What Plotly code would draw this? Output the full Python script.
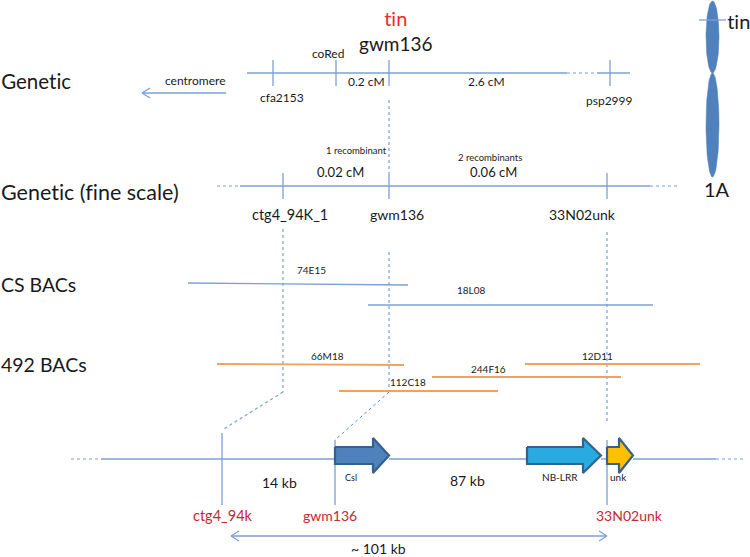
import numpy as np
import plotly.graph_objects as go

FONT = "Lato"
LINE = "#7ba0d4"
DARK = "#5f8cc6"
ORANGE = "#f6a15a"
BLACK = "#1a1a1a"
RED_T = "#ee2a2a"
RED_L = "#c5282f"

# x0, y0, x1, y1
solid_lines = [
    (247, 73, 567, 73), (597, 73, 630, 73),
    (273, 60, 273, 86), (336, 60, 336, 86), (389, 60, 389, 86), (610, 60, 610, 86),
    (240, 186, 650, 186),
    (283, 173, 283, 199), (389, 173, 389, 199), (607, 173, 607, 199),
    (188, 283, 408, 285), (368, 305, 653, 305),
    (101, 459, 335, 459), (389, 459, 527, 459), (601, 459, 607, 459), (633, 459, 716, 459),
    (222, 433, 222, 505), (335, 440, 335, 505), (607, 440, 607, 505),
    (699, 20, 726, 20),
    (142, 93, 226, 93), (231, 536, 607, 536),
]
dashed_lines = [
    (567, 73, 597, 73),
    (217, 186, 240, 186), (650, 186, 680, 186),
    (283, 229, 283, 392), (283, 392, 222, 430),
    (607, 232, 607, 423),
    (71, 459, 101, 459), (716, 459, 746, 459),
]
dark_dashed_lines = [
    (389, 100, 389, 173),
    (389, 252, 389, 392), (389, 392, 335, 440),
]
orange_lines = [
    (217, 364, 404, 365), (339, 391, 498, 391), (432, 377, 621, 377), (525, 364, 700, 364),
]
arrow_chevrons = [(142, 93, 1), (231, 536, 1), (607, 536, -1)]

# gene arrows: x start, head start, tip, fill, outline
gene_starts = [335, 527, 607]
gene_heads = [373, 583, 619]
gene_tips = [389, 601, 633]
gene_fills = ["#4f81bd", "#29abe2", "#ffc000"]
gene_y = (447, 464, 438, 473, 455.5)

# chromosome arms: center x, half width, top, bottom
chrom_arms = [(712.5, 6.5, 1, 73), (712.5, 6.5, 73, 177)]

# text, x, y, size, colour, anchor
labels = [
    ("Genetic", 2, 81, 20.5, BLACK, "left"),
    ("Genetic (fine scale)", 2, 192, 21.5, BLACK, "left"),
    ("CS BACs", 2, 284, 19.5, BLACK, "left"),
    ("492 BACs", 2, 364, 19.5, BLACK, "left"),
    ("tin", 395.5, 18, 20, RED_T, "center"),
    ("gwm136", 395.5, 43, 19, BLACK, "center"),
    ("tin", 738.5, 21, 20, BLACK, "center"),
    ("1A", 717, 189, 20, BLACK, "center"),
    ("coRed", 328, 53, 12, BLACK, "center"),
    ("centromere", 195, 80, 12, BLACK, "center"),
    ("cfa2153", 282, 97, 12, BLACK, "center"),
    ("0.2 cM", 366, 81, 12, BLACK, "center"),
    ("2.6 cM", 486, 81, 12, BLACK, "center"),
    ("psp2999", 609, 100, 12, BLACK, "center"),
    ("1 recombinant", 356, 150, 9.5, BLACK, "center"),
    ("2 recombinants", 490, 157, 9.5, BLACK, "center"),
    ("0.02 cM", 340, 172, 13, BLACK, "center"),
    ("0.06 cM", 493, 172, 13, BLACK, "center"),
    ("ctg4_94K_1", 290, 214, 14.5, BLACK, "center"),
    ("gwm136", 397, 214, 14, BLACK, "center"),
    ("33N02unk", 582.5, 214, 14, BLACK, "center"),
    ("74E15", 311.5, 270, 10, BLACK, "center"),
    ("18L08", 471, 290, 10, BLACK, "center"),
    ("66M18", 327, 356, 10, BLACK, "center"),
    ("112C18", 408, 382, 10, BLACK, "center"),
    ("244F16", 488, 369, 10, BLACK, "center"),
    ("12D11", 597, 356, 10, BLACK, "center"),
    ("14 kb", 279, 482, 14, BLACK, "center"),
    ("87 kb", 467, 480, 14, BLACK, "center"),
    ("Csl", 351, 477, 9, BLACK, "center"),
    ("NB-LRR", 560, 477, 10, BLACK, "center"),
    ("unk", 618, 477, 10, BLACK, "center"),
    ("ctg4_94k", 222.5, 515, 14.5, RED_L, "center"),
    ("gwm136", 330, 515, 14, RED_L, "center"),
    ("33N02unk", 629, 515, 14, RED_L, "center"),
    ("~ 101 kb", 378, 548, 14, BLACK, "center"),
]


def seg_xy(segs):
    xs, ys = [], []
    for x0, y0, x1, y1 in segs:
        xs += [x0, x1, None]
        ys += [y0, y1, None]
    return xs, ys


fig = go.Figure()


def add_lines(segs, color, width, dash="solid"):
    xs, ys = seg_xy(segs)
    fig.add_trace(go.Scatter(x=xs, y=ys, mode="lines",
                             line=dict(color=color, width=width, dash=dash),
                             hoverinfo="skip"))


# chromosome drawn first so that the tin line crosses over it
for cx, hw, top, bot in chrom_arms:
    t = np.linspace(0, 2 * np.pi, 80)
    fig.add_trace(go.Scatter(x=cx + hw * np.cos(t),
                             y=(top + bot) / 2 + (bot - top) / 2 * np.sin(t),
                             mode="lines", fill="toself", fillcolor="#4f81bd",
                             line=dict(color="#4f81bd", width=0.5), hoverinfo="skip"))

add_lines(solid_lines, LINE, 1.3)
add_lines(dashed_lines, LINE, 1.2, "3px,3px")
add_lines(dark_dashed_lines, DARK, 1, "3px,3px")
add_lines(orange_lines, ORANGE, 1.8)

chev = []
for x, y, d in arrow_chevrons:
    chev += [(x + d * 8, y - 5, x, y), (x, y, x + d * 8, y + 5)]
add_lines(chev, LINE, 1.3)

s_top, s_bot, h_top, h_bot, mid = gene_y
for x0, xh, xt, col in zip(gene_starts, gene_heads, gene_tips, gene_fills):
    fig.add_trace(go.Scatter(
        x=[x0, xh, xh, xt, xh, xh, x0, x0],
        y=[s_top, s_top, h_top, mid, h_bot, s_bot, s_bot, s_top],
        mode="lines", fill="toself", fillcolor=col,
        line=dict(color="#35618f", width=2.2), hoverinfo="skip"))

for text, x, y, size, color, anchor in labels:
    fig.add_annotation(x=x, y=y, text=text, showarrow=False, xanchor=anchor, yanchor="middle",
                       xshift=-3 if anchor == "left" else 0,
                       font=dict(family=FONT, size=size, color=color))

fig.update_layout(
    width=750, height=557, margin=dict(l=0, r=0, t=0, b=0),
    paper_bgcolor="white", plot_bgcolor="white", showlegend=False,
    xaxis=dict(range=[0, 750], visible=False, fixedrange=True),
    yaxis=dict(range=[557, 0], visible=False, fixedrange=True),
)
fig.write_html(
    "out.html",
    config={"displayModeBar": False},
    post_script=(
        "document.body.style.margin='0';document.body.style.overflow='hidden';"
        "var s=document.createElement('style');"
        "s.textContent='svg text{font-variant-ligatures:none !important;"
        "font-feature-settings:\"liga\" 0,\"clig\" 0 !important}';"
        "document.head.appendChild(s);"
    ),
)
